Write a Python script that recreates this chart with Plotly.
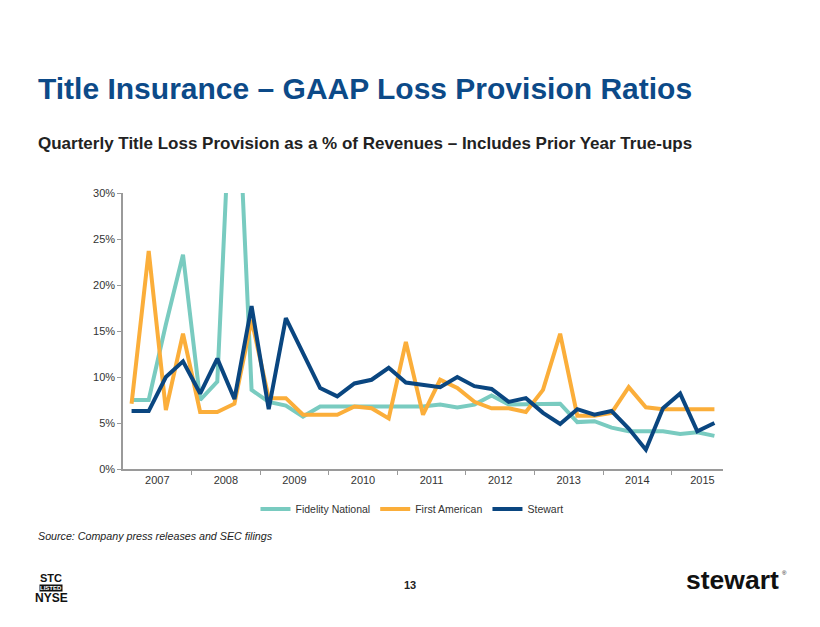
import plotly.graph_objects as go

# quarterly values, 2007 Q1 .. 2015 Q3
quarters = [f"{y} Q{q}" for y in range(2007, 2016) for q in range(1, 5)][:35]
years = [str(y) for y in range(2007, 2016)]
pct_ticks = [0, 5, 10, 15, 20, 25, 30]

fidelity = [7.5, 7.5, 15.7, 23.3, 7.5, 9.5, 50.0, 8.6, 7.3, 6.9,
            5.7, 6.8, 6.8, 6.8, 6.8, 6.8, 6.8, 6.8, 7.0, 6.7,
            7.0, 8.0, 7.0, 7.0, 7.0, 7.1, 5.1, 5.2, 4.5, 4.1,
            4.1, 4.1, 3.8, 4.0, 3.6]
first_american = [7.1, 23.7, 6.4, 14.7, 6.2, 6.2, 7.1, 16.2, 7.7, 7.7,
                  5.9, 5.9, 5.9, 6.8, 6.6, 5.5, 13.8, 5.9, 9.7, 8.8,
                  7.3, 6.6, 6.6, 6.2, 8.6, 14.7, 5.8, 5.8, 6.1, 8.9,
                  6.7, 6.5, 6.5, 6.5, 6.5]
stewart = [6.3, 6.3, 10.0, 11.7, 8.2, 12.0, 7.6, 17.7, 6.5, 16.4,
           12.6, 8.8, 7.9, 9.3, 9.7, 11.0, 9.4, 9.1, 8.9, 10.0,
           9.0, 8.7, 7.3, 7.7, 6.1, 4.9, 6.5, 5.9, 6.3, 4.4,
           2.1, 6.6, 8.2, 4.1, 5.0]

series = [("Fidelity National", fidelity, "#79CBC0"),
          ("First American", first_american, "#FBAE3A"),
          ("Stewart", stewart, "#0A4680")]

x = list(range(len(quarters)))

# page has an 8px body margin, so work in page pixels and shift
OFF = 8
W, H = 820 - OFF, 627 - 2 * OFF
L, R, T, B = 123 - OFF, 723 - OFF, 193 - OFF, 469 - OFF


def px(xp, yp):
    # page pixel position -> paper coordinates
    xp, yp = xp - OFF, yp - OFF
    return (xp - L) / (R - L), (B - yp) / (B - T)


fig = go.Figure()
for name, vals, col in series:
    fig.add_trace(go.Scatter(x=x, y=vals, name=name, mode="lines",
                             line=dict(color=col, width=4),
                             customdata=quarters,
                             hovertemplate="%{customdata}: %{y:.1f}%<extra>" + name + "</extra>"))

year_centers = [4 * i + 1.5 for i in range(8)] + [33.3]
year_bounds = [4 * i + 3.5 for i in range(8)]

fig.update_layout(
    width=W, height=H,
    margin=dict(l=L, r=W - R, t=T, b=H - B),
    paper_bgcolor="white", plot_bgcolor="white",
    font=dict(family="Liberation Sans, Arial, sans-serif", size=11, color="#333333"),
    showlegend=True,
    legend=dict(orientation="h", x=px(412, 0)[0], xanchor="center", y=px(0, 509)[1], yanchor="middle",
                font=dict(size=10.5, color="#333333"), itemwidth=30, tracegroupgap=0),
    xaxis=dict(range=[-0.5, 34.5], tickmode="array", tickvals=year_centers, ticktext=years,
               ticks="", showline=True, linecolor="#9a9a9a", linewidth=1.5, showgrid=False,
               zeroline=False, tickfont=dict(size=11, color="#333333"),
               minor=dict(tickmode="array", tickvals=year_bounds, ticks="outside",
                          ticklen=4, tickcolor="#9a9a9a", showgrid=False)),
    yaxis=dict(range=[0, 30], tickmode="array", tickvals=pct_ticks,
               ticktext=[f"{v}%" for v in pct_ticks], ticks="outside", ticklen=4, tickcolor="#9a9a9a",
               showline=True, linecolor="#9a9a9a", linewidth=1.5, showgrid=False,
               zeroline=False, tickfont=dict(size=11, color="#333333")),
)

ann = []


def text(xp, yp, s, size, color="#222222", bold=False, italic=False, xanchor="left", yanchor="middle", **kw):
    xx, yy = px(xp, yp)
    if bold:
        s = "<b>" + s + "</b>"
    if italic:
        s = "<i>" + s + "</i>"
    ann.append(dict(xref="paper", yref="paper", x=xx, y=yy, text=s, showarrow=False,
                    xanchor=xanchor, yanchor=yanchor,
                    font=dict(size=size, color=color, family="Liberation Sans, Arial, sans-serif"), **kw))


text(36, 88, "Title Insurance – GAAP Loss Provision Ratios", 30, color="#0C4A88", bold=True)
text(36, 143, "Quarterly Title Loss Provision as a % of Revenues – Includes Prior Year True-ups", 17,
     color="#222222", bold=True)
text(36, 536, "Source: Company press releases and SEC filings", 10.7, italic=True)
text(410, 585, "13", 11, bold=True, xanchor="center")
text(51, 578, "STC", 11, color="#111111", bold=True, xanchor="center")
text(51, 588, "LISTED", 6, color="white", bold=True, xanchor="center", bgcolor="#111111", borderpad=0)
text(51, 598, "NYSE", 12, color="#111111", bold=True, xanchor="center")
text(781, 580, "stewart", 26.5, color="#111111", bold=True, xanchor="right")
text(780, 573, "®", 6, color="#111111", xanchor="left")

fig.update_layout(annotations=ann)

fig.write_html("out.html")
